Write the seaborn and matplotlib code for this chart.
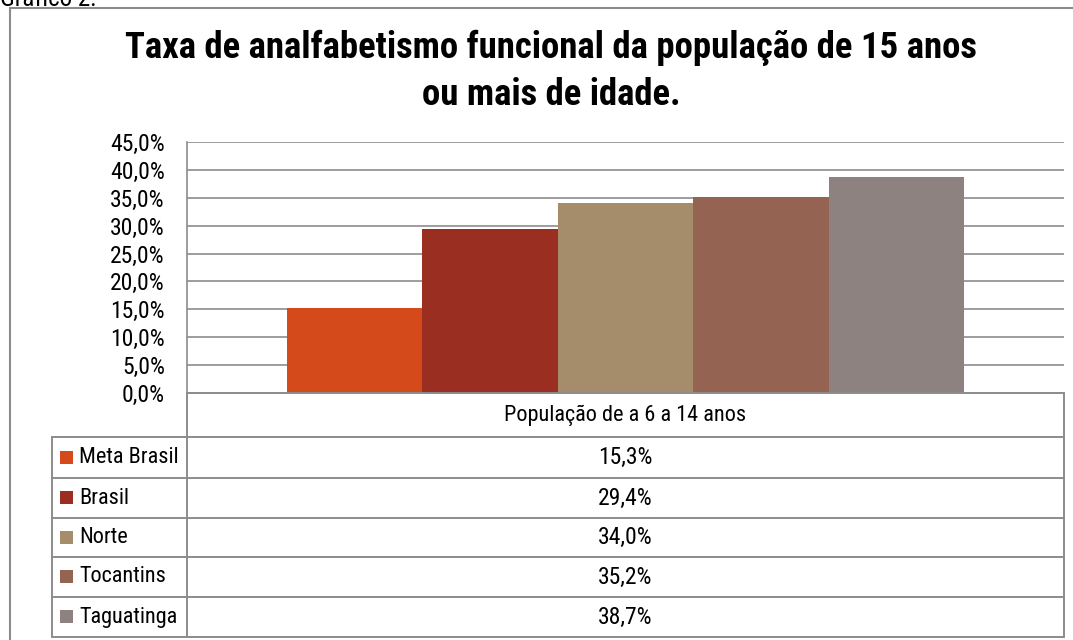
import matplotlib.pyplot as plt
import seaborn as sns
import pandas as pd
from matplotlib import font_manager
from matplotlib.lines import Line2D
from matplotlib.patches import Rectangle

series = ['Meta Brasil', 'Brasil', 'Norte', 'Tocantins', 'Taguatinga']
values = [15.3, 29.4, 34.0, 35.2, 38.7]
category = 'População de a 6 a 14 anos'
colors = ['#D44A1A', '#9A2E20', '#A58D6C', '#946352', '#8E8280']

sns.set_style('white')
installed = {f.name for f in font_manager.fontManager.ttflist}
narrow = [n for n in ['Liberation Sans Narrow', 'Roboto Condensed', 'Open Sans Condensed',
                      'DejaVu Sans Condensed'] if n in installed]
main_font = narrow[0] if narrow else 'Liberation Sans'
plt.rcParams['font.family'] = [main_font, 'DejaVu Sans']
plt.rcParams['text.color'] = 'black'
plt.rcParams['ytick.color'] = 'black'
scale = 1.0 if narrow else 0.85

data = pd.DataFrame({'cat': [category] * len(series), 'serie': series, 'valor': values})

W, H = 1073, 640
fig = plt.figure(figsize=(W / 100, H / 100), dpi=100)

def fx(px):
    return px / W

def fy(py):
    return 1 - py / H

left, right, top, base = 187, 1064, 142, 393
ax = fig.add_axes([fx(left), fy(base), fx(right - left), (base - top) / H])
sns.barplot(data=data, x='cat', y='valor', hue='serie', palette=colors,
            width=0.772, saturation=1, legend=False, ax=ax, zorder=3)
for p in ax.patches:
    p.set_edgecolor('none')

ax.set_ylim(0, 45)
ax.set_yticks([i * 5 for i in range(10)])
ax.set_yticklabels([f'{i * 5},0%' for i in range(10)], fontsize=17 * scale)
ax.tick_params(axis='y', length=0, pad=16)
ax.set_xticks([])
ax.set_xlabel('')
ax.set_ylabel('')
ax.yaxis.grid(True, color='#8C8C8C', linewidth=1.2, zorder=0)
ax.set_axisbelow(True)
for s in ['top', 'right', 'bottom']:
    ax.spines[s].set_visible(False)
ax.spines['left'].set_color('#8C8C8C')
ax.spines['left'].set_linewidth(1.2)

# outer frame
fig.add_artist(Rectangle((fx(10), fy(700)), fx(1100), (700 - 8) / H,
                         transform=fig.transFigure, fill=False,
                         edgecolor='#8C8C8C', linewidth=1.5))
fig.text(fx(0), fy(6), 'Gráfico 2:', fontsize=18 * scale, va='baseline', ha='left')

title_size = 26.5 * scale
fig.text(fx(551), fy(48), 'Taxa de analfabetismo funcional da população de 15 anos',
         fontsize=title_size, fontweight='bold', ha='center', va='center')
fig.text(fx(551), fy(95), 'ou mais de idade.',
         fontsize=title_size, fontweight='bold', ha='center', va='center')

# data table
rows = [393, 437, 478, 518, 557, 597, 637]
gc = '#8C8C8C'
def hline(x0, x1, y):
    fig.add_artist(Line2D([fx(x0), fx(x1)], [fy(y), fy(y)], color=gc, linewidth=1.4,
                          transform=fig.transFigure))
def vline(x, y0, y1):
    fig.add_artist(Line2D([fx(x), fx(x)], [fy(y0), fy(y1)], color=gc, linewidth=1.4,
                          transform=fig.transFigure))

hline(left, right, rows[0])
for y in rows[1:]:
    hline(52, right, y)
vline(left, rows[0], rows[-1])
vline(right, rows[0], rows[-1])
vline(52, rows[1], rows[-1])

mid = (left + right) / 2
fig.text(fx(mid), fy((rows[0] + rows[1]) / 2), category, fontsize=16 * scale,
         ha='center', va='center')
for i, (name, val, col) in enumerate(zip(series, values, colors)):
    yc = (rows[i + 1] + rows[i + 2]) / 2
    fig.add_artist(Rectangle((fx(60), fy(yc + 6)), fx(13), 13 / H,
                             transform=fig.transFigure, facecolor=col, edgecolor='none'))
    fig.text(fx(79), fy(yc), name, fontsize=16 * scale, ha='left', va='center')
    fig.text(fx(mid), fy(yc), f'{val:.1f}%'.replace('.', ','), fontsize=17 * scale,
             ha='center', va='center')

fig.savefig('out.png', dpi=100, facecolor='white')
